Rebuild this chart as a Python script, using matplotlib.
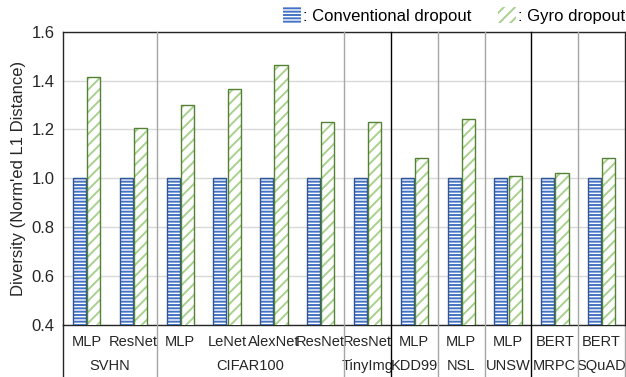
import matplotlib
matplotlib.use("Agg")
import matplotlib.pyplot as plt
from matplotlib.patches import Patch
import matplotlib.transforms as mtransforms
import numpy as np

# data
models = ["MLP", "ResNet", "MLP", "LeNet", "AlexNet", "ResNet", "ResNet",
          "MLP", "MLP", "MLP", "BERT", "BERT"]
datasets = ["SVHN", "CIFAR100", "TinyImg", "KDD99", "NSL", "UNSW", "MRPC", "SQuAD"]
dataset_sizes = [2, 4, 1, 1, 1, 1, 1, 1]
conventional = [1.0, 1.0, 1.0, 1.0, 1.0, 1.0, 1.0, 1.0, 1.0, 1.0, 1.0, 1.0]
gyro = [1.415, 1.204, 1.302, 1.367, 1.464, 1.229, 1.231, 1.082, 1.242, 1.008, 1.020, 1.084]
yticks = [0.4, 0.6, 0.8, 1.0, 1.2, 1.4, 1.6]

plt.rcParams['font.family'] = ['Liberation Sans', 'DejaVu Sans']
plt.rcParams['hatch.linewidth'] = 1.4

blue_hatch, blue_edge = '#4472C4', '#2F5597'
green_hatch, green_edge = '#A9D18E', '#548235'

fig = plt.figure(figsize=(6.26, 3.77), dpi=100)
ax = fig.add_axes([63 / 626, 1 - 325 / 377, 562 / 626, (325 - 31.7) / 377])

x = np.arange(len(models))
w = 0.28
# hatch fill, then outline on top
ax.bar(x - 0.15, conventional, w, color='white', edgecolor=blue_hatch,
       hatch='-----', linewidth=0, zorder=3)
ax.bar(x - 0.15, conventional, w, fill=False, edgecolor=blue_edge, linewidth=1.0, zorder=4)
ax.bar(x + 0.155, gyro, w, color='white', edgecolor=green_hatch,
       hatch='///', linewidth=0, zorder=3)
ax.bar(x + 0.155, gyro, w, fill=False, edgecolor=green_edge, linewidth=1.0, zorder=4)

ax.set_ylim(0.4, 1.6)
ax.set_xlim(-0.5, len(models) - 0.5)
ax.set_yticks(yticks)
ax.set_yticklabels(["%.1f" % t for t in yticks], fontsize=12, color='#262626')
ax.set_xticks([])
ax.tick_params(axis='y', length=0, pad=6)
ax.yaxis.grid(True, color='#D9D9D9', linewidth=1.0, zorder=0)
ax.set_axisbelow(True)
for s in ax.spines.values():
    s.set_color('#262626')
    s.set_linewidth(1.0)

ax.set_ylabel("Diversity (Norm'ed L1 Distance)", fontsize=12, color='#262626', labelpad=4)

# group separators (gray within a domain, black between domains)
trans = mtransforms.blended_transform_factory(ax.transData, ax.transAxes)
bottom_y = -(377 - 325) / 293.3
bounds = np.cumsum(dataset_sizes)[:-1] - 0.5
for b in bounds:
    col = 'black' if b in (6.5, 9.5) else '#A6A6A6'
    ax.plot([b, b], [bottom_y, 1], color=col, linewidth=1.0, transform=trans,
            clip_on=False, zorder=5)
ax.plot([11.5, 11.5], [bottom_y, 0], color='#A6A6A6', linewidth=1.0, transform=trans,
        clip_on=False)
ax.plot([-0.5, -0.5], [bottom_y, 0], color='#262626', linewidth=1.0, transform=trans,
        clip_on=False)

# two-level category labels
for xi, m in zip(x, models):
    ax.text(xi, -0.058, m, transform=trans, ha='center', va='center',
            fontsize=10.5, color='#262626')
start = 0
for name, n in zip(datasets, dataset_sizes):
    ax.text(start + (n - 1) / 2, -0.14, name, transform=trans, ha='center', va='center',
            fontsize=10.5, color='#262626')
    start += n

handles = [Patch(facecolor='white', edgecolor=blue_hatch, hatch='-----', linewidth=0),
           Patch(facecolor='white', edgecolor=green_hatch, hatch='///', linewidth=0)]
fig.legend(handles, [": Conventional dropout", ": Gyro dropout"], loc='upper right',
           bbox_to_anchor=(1.022, 1.02), ncol=2, frameon=False, fontsize=12,
           handlelength=1.1, handleheight=1.1, handletextpad=0.1, columnspacing=1.6)

fig.savefig("out.png", dpi=100)
